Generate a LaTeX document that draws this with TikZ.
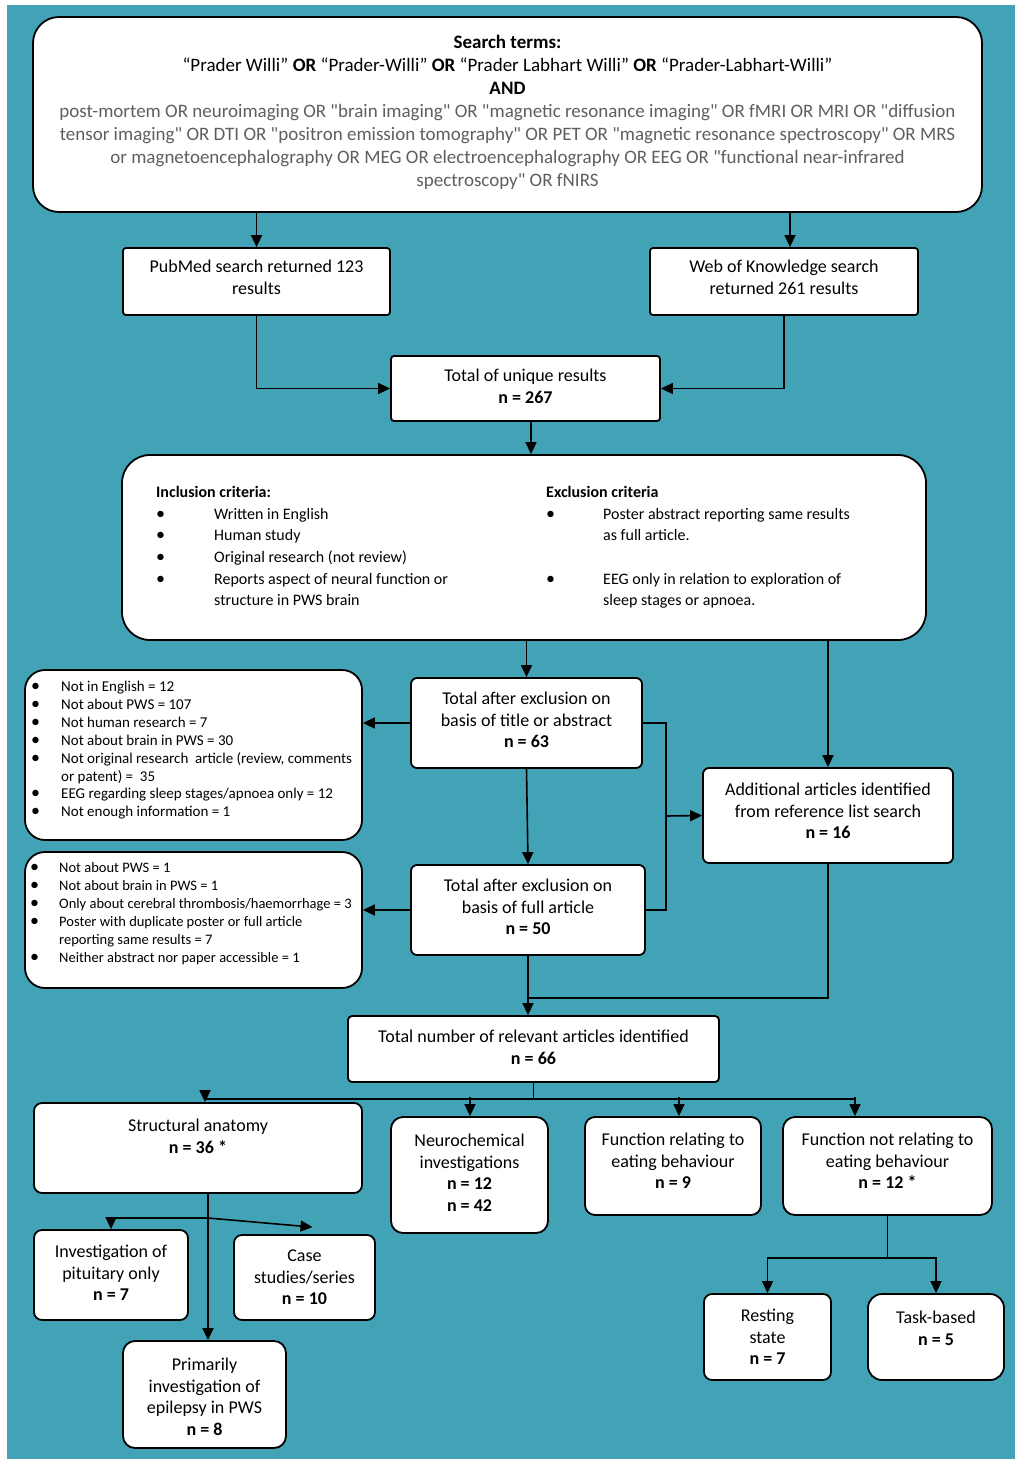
\documentclass[tikz,border=0pt]{standalone}
\usepackage{fontspec}
\setmainfont{Carlito}[Ligatures=TeXOff]
\usetikzlibrary{arrows.meta,fit}
\definecolor{bgteal}{RGB}{66,163,182}
\definecolor{qgray}{RGB}{95,95,95}
\newcommand\bul{{\fontsize{18}{0}\selectfont\textbullet}}
\begin{document}
\begin{tikzpicture}[x=1pt,y=-1pt,
  box/.style={draw=black, line width=1.8pt, fill=white, inner sep=0pt, rounded corners=#1},
  box/.default=8pt,
  arr/.style={line width=1.6pt, -{Triangle[length=12pt,width=11pt]}},
  ln/.style={line width=1.6pt},
  txt/.style={anchor=north, align=center, inner sep=0pt, font=\fontsize{18}{21.7}\selectfont},
  stxt/.style={anchor=north, align=center, inner sep=0pt, font=\fontsize{19}{23}\selectfont},
  ctxt/.style={anchor=north west, align=left, inner sep=0pt, font=\fontsize{16}{21.7}\selectfont},
  ltxt/.style={anchor=north west, align=left, inner sep=0pt, font=\fontsize{#1}{17.86}\selectfont}]
\useasboundingbox (0,0) rectangle (1024,1470);
\fill[white] (0,0) rectangle (1024,1470);
\fill[bgteal] (7,5) rectangle (1015,1459);

% boxes
\node[box=26pt, fit={(33,17)(982,212)}] (search) {};
\node[box=3pt, fit={(123,248)(390,315)}] (pub) {};
\node[box=3pt, fit={(650,248)(918,315)}] (wok) {};
\node[box=3pt, fit={(391,356)(660,421)}] (total) {};
\node[box=28pt, fit={(122,455)(926,640)}] (crit) {};
\node[box=20pt, fit={(25,670)(362,840)}] (ex1) {};
\node[box=6pt, fit={(411,678)(642,768)}] (title) {};
\node[box=6pt, fit={(703,768)(953,863)}] (add) {};
\node[box=20pt, fit={(25,852)(362,988)}] (ex2) {};
\node[box=6pt, fit={(411,865)(645,955)}] (full) {};
\node[box=4pt, fit={(348,1016)(719,1082)}] (rel) {};
\node[box=8pt, fit={(34,1103)(362,1193)}] (struct) {};
\node[box=12pt, fit={(391,1117)(548,1233)}] (neuro) {};
\node[box=10pt, fit={(585,1117)(761,1215)}] (func) {};
\node[box=12pt, fit={(783,1117)(992,1215)}] (notf) {};
\node[box=8pt, fit={(34,1230)(188,1320)}] (pit) {};
\node[box=8pt, fit={(234,1235)(375,1320)}] (case) {};
\node[box=12pt, fit={(123,1341)(286,1448)}] (prim) {};
\node[box=8pt, fit={(704,1294)(831,1380)}] (rest) {};
\node[box=14pt, fit={(868,1294)(1004,1380)}] (task) {};

% texts
\node[stxt] (t-search) at (507.5,32) {\strut\textbf{Search terms:}\\
“Prader Willi” \textbf{OR} “Prader-Willi” \textbf{OR} “Prader Labhart Willi” \textbf{OR} “Prader-Labhart-Willi”\\
\textbf{AND}\\
\color{qgray}post-mortem OR neuroimaging OR "brain imaging" OR "magnetic resonance imaging" OR fMRI OR MRI OR "diffusion\\
\color{qgray}tensor imaging" OR DTI OR "positron emission tomography" OR PET OR "magnetic resonance spectroscopy" OR MRS\\
\color{qgray}or magnetoencephalography OR MEG OR electroencephalography OR EEG OR "functional near-infrared\\
\color{qgray}spectroscopy" OR fNIRS};
\node[txt] (t-pub) at (256.5,257) {\strut PubMed search returned 123\\results};
\node[txt] (t-wok) at (784,257) {\strut Web of Knowledge search\\returned 261 results};
\node[txt] (t-total) at (525.5,366) {\strut Total of unique results\\\textbf{n = 267}};
\node[ctxt] (t-inc) at (156,482) {\strut\textbf{Inclusion criteria:}\\
\makebox[58pt][l]{\bul}Written in English\\
\makebox[58pt][l]{\bul}Human study\\
\makebox[58pt][l]{\bul}Original research (not review)\\
\makebox[58pt][l]{\bul}Reports aspect of neural function or\\
\hspace*{58pt}structure in PWS brain};
\node[ctxt] (t-exc) at (546,482) {\strut\textbf{Exclusion criteria}\\
\makebox[57pt][l]{\bul}Poster abstract reporting same results\\
\hspace*{57pt}as full article.\\
\mbox{}\\
\makebox[57pt][l]{\bul}EEG only in relation to exploration of\\
\hspace*{57pt}sleep stages or apnoea.};
\node[ltxt=15] (t-ex1) at (31,679) {\strut\makebox[30pt][l]{\bul}Not in English = 12\\
\makebox[30pt][l]{\bul}Not about PWS = 107\\
\makebox[30pt][l]{\bul}Not human research = 7\\
\makebox[30pt][l]{\bul}Not about brain in PWS = 30\\
\makebox[30pt][l]{\bul}Not original research~ article (review, comments\\
\hspace*{30pt}or patent) = ~35\\
\makebox[30pt][l]{\bul}EEG regarding sleep stages/apnoea only = 12\\
\makebox[30pt][l]{\bul}Not enough information = 1};
\node[ltxt=14.5] (t-ex2) at (30,860) {\strut\makebox[29pt][l]{\bul}Not about PWS = 1\\
\makebox[29pt][l]{\bul}Not about brain in PWS = 1\\
\makebox[29pt][l]{\bul}Only about cerebral thrombosis/haemorrhage = 3\\
\makebox[29pt][l]{\bul}Poster with duplicate poster or full article\\
\hspace*{29pt}reporting same results = 7\\
\makebox[29pt][l]{\bul}Neither abstract nor paper accessible = 1};
\node[txt] (t-title) at (526.5,689) {\strut Total after exclusion on\\basis of title or abstract\\\textbf{n = 63}};
\node[txt] (t-add) at (828,780) {\strut Additional articles identified\\from reference list search\\\textbf{n = 16}};
\node[txt] (t-full) at (528,876) {\strut Total after exclusion on\\basis of full article\\\textbf{n = 50}};
\node[txt] (t-rel) at (533.5,1027) {\strut Total number of relevant articles identified\\\textbf{n = 66}};
\node[txt] (t-struct) at (198,1116) {\strut Structural anatomy\\\textbf{n = 36 *}};
\node[txt] (t-neuro) at (469.5,1131) {\strut Neurochemical\\investigations\\\textbf{n = 12}\\\textbf{n = 42}};
\node[txt] (t-func) at (673,1130) {\strut Function relating to\\eating behaviour\\\textbf{n = 9}};
\node[txt] (t-notf) at (887.5,1130) {\strut Function not relating to\\eating behaviour\\\textbf{n = 12 *}};
\node[txt] (t-pit) at (111,1242) {\strut Investigation of\\pituitary only\\\textbf{n = 7}};
\node[txt] (t-case) at (304.5,1246) {\strut Case\\studies/series\\\textbf{n = 10}};
\node[txt] (t-prim) at (204.5,1355) {\strut Primarily\\investigation of\\epilepsy in PWS\\\textbf{n = 8}};
\node[txt] (t-rest) at (767.5,1306) {\strut Resting\\state\\\textbf{n = 7}};
\node[txt] (t-task) at (936,1308) {\strut Task-based\\\textbf{n = 5}};

% connectors
\draw[arr] (pub.north |- search.south) -- (pub.north);
\draw[arr] ([xshift=6pt]wok.north |- search.south) -- ([xshift=6pt]wok.north);
\draw[arr] (pub.south) |- (total.west);
\draw[arr] (wok.south) |- (total.east);
\draw[arr] ([xshift=5.5pt]total.south) -- ([xshift=5.5pt]total.south |- crit.north);
\draw[arr] (title.north |- crit.south) -- (title.north);
\draw[arr] (add.north |- crit.south) -- (add.north);
\draw[arr] (title.west) -- (title.west -| ex1.east);
\draw[arr] (title.south) -- (full.north);
\draw[arr] (full.west) -- (full.west -| ex2.east);
\coordinate (jx) at (666,816);
\draw[ln] (title.east) -| (jx);
\draw[ln] (full.east) -| (jx);
\draw[arr] (jx) -- (add.west);
\draw[arr] (full.south) -- (full.south |- rel.north);
\coordinate (mg) at (528,998);
\draw[ln] (add.south) |- (mg);
\coordinate (hb) at (533.5,1099);
\coordinate (hl) at (205,1099);
\coordinate (hr) at (855,1099);
\draw[ln] (rel.south) -- (hb);
\draw[ln] (hl) -- (hr);
\draw[arr] (hl) -- (hl |- struct.north);
\draw[arr] (470,1097) -- (470,0 |- neuro.north);
\draw[arr] (679,1097) -- (679,0 |- func.north);
\draw[arr] (855,1097) -- (855,0 |- notf.north);
\coordinate (sb) at (208,1218);
\draw[arr] (208,0 |- struct.south) -- (208,0 |- prim.north);
\draw[arr] (sb) -| (pit.north);
\draw[arr] (sb) -- ([xshift=8pt,yshift=7pt]case.north);
\coordinate (nb) at (887.5,1258);
\draw[ln] (notf.south) -- (nb);
\draw[arr] (nb) -| (rest.north);
\draw[arr] (nb) -| (task.north);
\end{tikzpicture}
\end{document}
